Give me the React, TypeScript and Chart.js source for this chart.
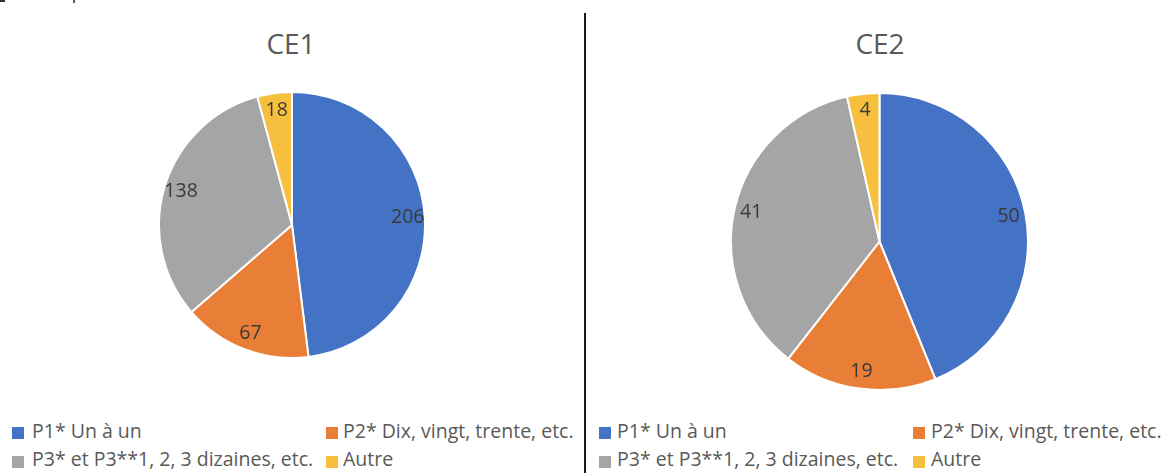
import React, { useEffect, useRef } from "react";
import { Chart, registerables } from "chart.js";

Chart.register(...registerables);

const categories = [
  "P1* Un à un",
  "P2* Dix, vingt, trente, etc.",
  "P3* et P3**1, 2, 3 dizaines, etc.",
  "Autre",
];
const ce1Values = [206, 67, 138, 18];
const ce2Values = [50, 19, 41, 4];
const chartTitles = ["CE1", "CE2"];
const sliceColors = ["#4472C4", "#E97E37", "#A5A5A5", "#F6BF3E"];

const FONT = "'Open Sans', 'DejaVu Sans', sans-serif";

const valueLabelPlugin = {
  id: "valueLabels",
  afterDatasetsDraw(chart: any) {
    const ctx = chart.ctx;
    const meta = chart.getDatasetMeta(0);
    const values = chart.data.datasets[0].data;
    ctx.save();
    ctx.font = `19.5px ${FONT}`;
    ctx.fillStyle = "#3a3a3a";
    ctx.textAlign = "center";
    ctx.textBaseline = "middle";
    meta.data.forEach((arc: any, i: number) => {
      const p = arc.getProps(["x", "y", "startAngle", "endAngle", "outerRadius"], true);
      const mid = (p.startAngle + p.endAngle) / 2;
      const d = p.outerRadius - 17;
      ctx.fillText(String(values[i]), p.x + Math.cos(mid) * d, p.y + Math.sin(mid) * d);
    });
    ctx.restore();
  },
};

function PieCanvas({ values, left, top, size }: { values: number[]; left: number; top: number; size: number }) {
  const ref = useRef<HTMLCanvasElement | null>(null);
  useEffect(() => {
    if (!ref.current) return;
    const chart = new Chart(ref.current, {
      type: "pie",
      data: {
        labels: categories,
        datasets: [
          {
            data: values,
            backgroundColor: sliceColors,
            borderColor: "#ffffff",
            borderWidth: 2,
          },
        ],
      },
      options: {
        responsive: false,
        animation: false,
        layout: { padding: 0 },
        plugins: {
          legend: { display: false },
          tooltip: { enabled: false },
          title: { display: false },
        },
      },
      plugins: [valueLabelPlugin],
    });
    return () => chart.destroy();
  }, [values]);
  return (
    <canvas
      ref={ref}
      width={size}
      height={size}
      style={{ position: "absolute", left, top, width: size, height: size }}
    />
  );
}

function LegendItem({ idx, sqX, textX, row }: { idx: number; sqX: number; textX: number; row: number }) {
  const sqTop = row === 0 ? 427 : 456;
  const textTop = row === 0 ? 421 : 449;
  return (
    <>
      <div
        style={{
          position: "absolute",
          left: sqX,
          top: sqTop,
          width: 12,
          height: 12,
          background: sliceColors[idx],
        }}
      />
      <div
        style={{
          position: "absolute",
          left: textX,
          top: textTop,
          fontFamily: FONT,
          fontSize: "19.5px",
          lineHeight: "20px",
          color: "#595959",
          whiteSpace: "nowrap",
        }}
      >
        {categories[idx]}
      </div>
    </>
  );
}

export default function App() {
  return (
    <div
      style={{
        position: "absolute",
        left: 0,
        top: 0,
        width: 1161,
        height: 473,
        background: "#ffffff",
        overflow: "hidden",
      }}
    >
      <div style={{ position: "absolute", left: 0, top: 0, width: 5, height: 2, background: "#333" }} />
      <div style={{ position: "absolute", left: 73, top: 0, width: 2, height: 3, background: "#555" }} />
      <div style={{ position: "absolute", left: 584, top: 13, width: 2, height: 460, background: "#1a1a1a" }} />

      <div
        style={{
          position: "absolute",
          left: 191,
          top: 29,
          width: 200,
          textAlign: "center",
          fontFamily: FONT,
          fontSize: "28px",
          lineHeight: "28px",
          color: "#595959",
        }}
      >
        {chartTitles[0]}
      </div>
      <div
        style={{
          position: "absolute",
          left: 780,
          top: 29,
          width: 200,
          textAlign: "center",
          fontFamily: FONT,
          fontSize: "28px",
          lineHeight: "28px",
          color: "#595959",
        }}
      >
        {chartTitles[1]}
      </div>

      <PieCanvas values={ce1Values} left={158} top={91} size={268} />
      <PieCanvas values={ce2Values} left={730} top={92} size={299} />

      <LegendItem idx={0} sqX={12} textX={32} row={0} />
      <LegendItem idx={1} sqX={326} textX={343} row={0} />
      <LegendItem idx={2} sqX={12} textX={32} row={1} />
      <LegendItem idx={3} sqX={326} textX={343} row={1} />

      <LegendItem idx={0} sqX={599} textX={617} row={0} />
      <LegendItem idx={1} sqX={913} textX={931} row={0} />
      <LegendItem idx={2} sqX={599} textX={617} row={1} />
      <LegendItem idx={3} sqX={913} textX={931} row={1} />
    </div>
  );
}
